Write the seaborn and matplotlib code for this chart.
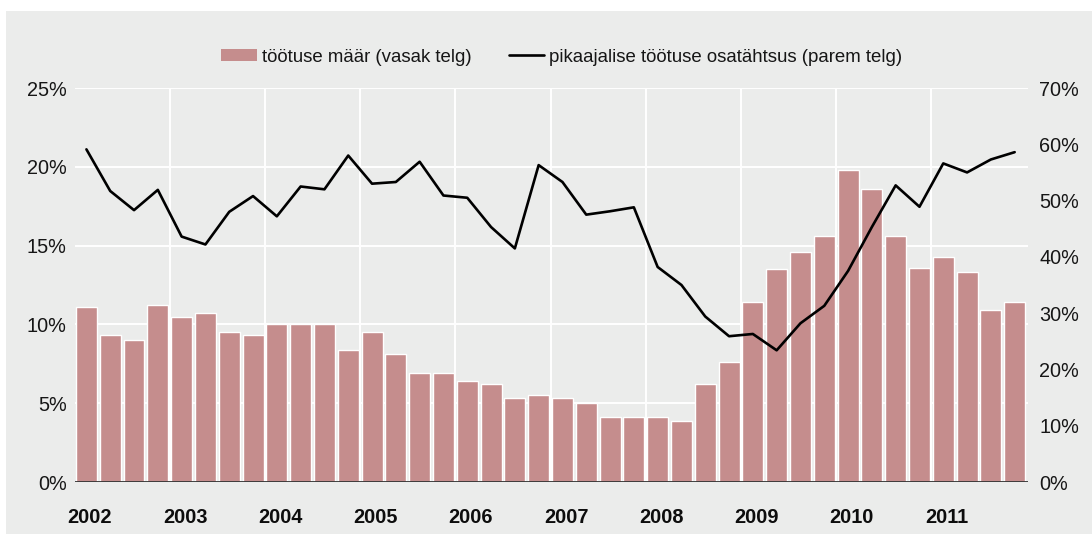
import numpy as np
import pandas as pd
import matplotlib
matplotlib.use("Agg")
import matplotlib.pyplot as plt
from matplotlib.patches import Patch, Rectangle
from matplotlib.lines import Line2D
from matplotlib.ticker import FixedLocator
import seaborn as sns

# ---- data (quarterly, 2002Q1 .. 2011Q4) ----
years = ["2002", "2003", "2004", "2005", "2006", "2007", "2008", "2009", "2010", "2011"]
quarters = [f"{y}Q{q}" for y in years for q in range(1, 5)]

unemployment_rate = [11.1, 9.3, 9.0, 11.2, 10.5, 10.7, 9.5, 9.3,
                     10.0, 10.0, 10.0, 8.4, 9.5, 8.1, 6.9, 6.9,
                     6.4, 6.2, 5.3, 5.5, 5.3, 5.0, 4.1, 4.1,
                     4.1, 3.9, 6.2, 7.6, 11.4, 13.5, 14.6, 15.6,
                     19.8, 18.6, 15.6, 13.6, 14.3, 13.3, 10.9, 11.4]

long_term_share = [59.1, 51.7, 48.3, 51.9, 43.6, 42.2, 48.0, 50.8,
                   47.2, 52.5, 52.0, 58.0, 53.0, 53.3, 56.9, 50.9,
                   50.5, 45.3, 41.5, 56.3, 53.3, 47.5, 48.1, 48.8,
                   38.2, 35.0, 29.4, 25.9, 26.3, 23.4, 28.2, 31.3,
                   37.5, 45.3, 52.7, 48.9, 56.6, 55.0, 57.3, 58.6]

left_ticks = [0, 5, 10, 15, 20, 25]
right_ticks = [0, 10, 20, 30, 40, 50, 60, 70]

label_bars = "töötuse määr (vasak telg)"
label_line = "pikaajalise töötuse osatähtsus (parem telg)"

df = pd.DataFrame({"quarter": quarters,
                   "pos": np.arange(len(quarters)),
                   "rate": unemployment_rate,
                   "share": long_term_share})

# ---- style ----
BG = "#ebeceb"
BAR = "#c58d8d"
TXT = "#161616"
sns.set_style("white")
plt.rcParams["font.family"] = ["Liberation Sans", "DejaVu Sans"]
plt.rcParams["font.size"] = 13

fig = plt.figure(figsize=(10.92, 5.34), dpi=100, facecolor="white")
# grey panel (white margin at top and left)
fig.patches.append(Rectangle((6 / 1092, 0), 1 - 6 / 1092, 1 - 11 / 534,
                             transform=fig.transFigure, facecolor=BG,
                             edgecolor="none", zorder=-10))

ax = fig.add_axes([75 / 1092, 1 - 482 / 534, (1028 - 75) / 1092, (482 - 88) / 534])
ax.set_facecolor("none")

sns.barplot(data=df, x="pos", y="rate", color=BAR, width=0.88,
            saturation=1, ax=ax, zorder=2)
ax.set_xlim(-0.48, 39.56)
ax.set_ylim(0, 25)
ax.set_yticks(left_ticks)
ax.set_yticklabels([f"{t}%" for t in left_ticks], fontsize=14.3, color=TXT)

# year labels at first quarter of each year
ax.set_xticks([4 * k + 0.15 for k in range(len(years))])
ax.set_xticklabels(years, fontsize=14.3, fontweight="bold", color="#0d0d0d")
ax.xaxis.set_minor_locator(FixedLocator([4 * k - 0.5 for k in range(1, len(years))]))
ax.tick_params(axis="x", which="both", length=0, pad=18.5)
ax.tick_params(axis="y", length=0, pad=6)
ax.set_xlabel("")
ax.set_ylabel("")

ax.set_axisbelow(True)
ax.grid(False)
ax.yaxis.grid(True, color="white", linewidth=1.4, zorder=0)
ax.xaxis.grid(True, which="minor", color="white", linewidth=1.4, zorder=0)
for s in ax.spines.values():
    s.set_visible(False)
ax.axhline(0, color="#333333", linewidth=1.3, zorder=5)

ax2 = ax.twinx()
sns.lineplot(data=df, x="pos", y="share", color="black", linewidth=1.9,
             ax=ax2, zorder=6)
ax2.set_ylim(0, 70)
ax2.set_yticks(right_ticks)
ax2.set_yticklabels([f"{t}%" for t in right_ticks], fontsize=14.3, color=TXT)
ax2.tick_params(axis="y", length=0, pad=8)
ax2.set_ylabel("")
ax2.grid(False)
for s in ax2.spines.values():
    s.set_visible(False)
ax2.set_xlim(-0.48, 39.56)

handles = [Patch(facecolor=BAR, edgecolor="none", label=label_bars),
           Line2D([0], [0], color="black", linewidth=1.9, label=label_line)]
leg = fig.legend(handles=handles, loc="center", bbox_to_anchor=(562 / 1092, 1 - 57 / 534),
                 ncol=2, frameon=False, fontsize=13.4, handlelength=1.9,
                 handleheight=0.62, handletextpad=0.28, columnspacing=2.0)
for t in leg.get_texts():
    t.set_color(TXT)

fig.savefig("out.png", dpi=100, facecolor="white")
